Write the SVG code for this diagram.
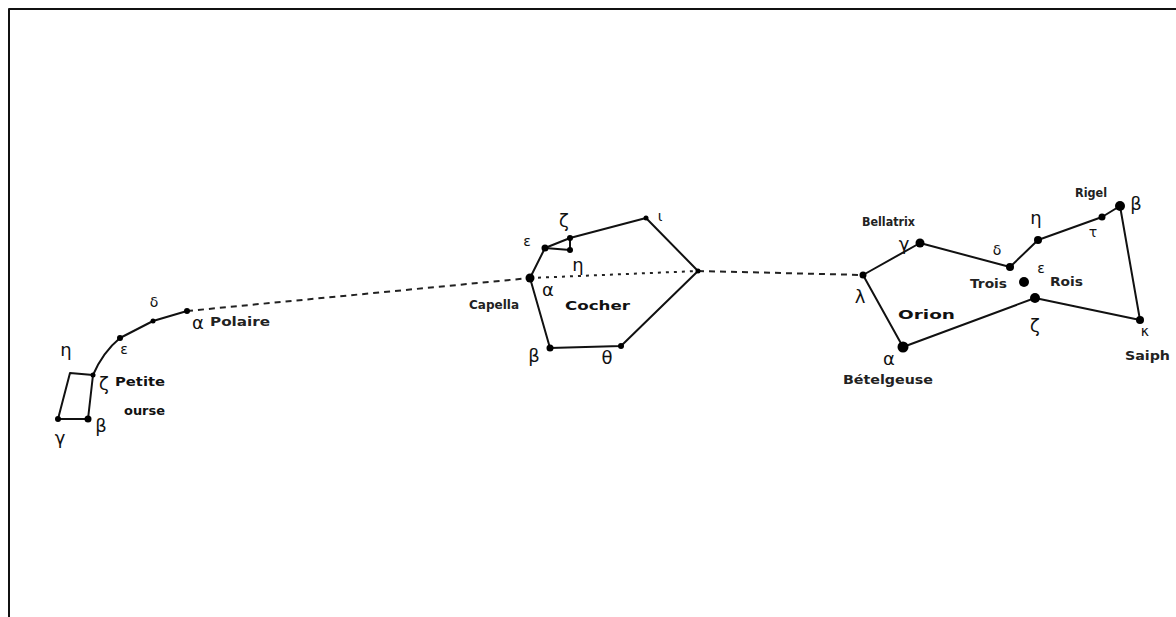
<svg xmlns="http://www.w3.org/2000/svg" width="1176" height="617" viewBox="0 0 1176 617">
<style>
.ln{stroke:#111;stroke-width:2;fill:none;stroke-linecap:round;stroke-linejoin:round}
.dash{stroke:#222;stroke-width:2;fill:none;stroke-dasharray:6 5}
.dot{stroke:#222;stroke-width:2;fill:none;stroke-dasharray:3 5}
.st{fill:#000}
.gk{font-family:"DejaVu Sans",sans-serif;font-size:18px;fill:#111;text-anchor:middle}
.gs{font-family:"DejaVu Sans",sans-serif;font-size:14px;fill:#111;text-anchor:middle}
.lb{font-family:"DejaVu Sans",sans-serif;font-size:12px;font-weight:bold;fill:#222}
.bd{font-family:"DejaVu Sans",sans-serif;font-size:13px;font-weight:bold;fill:#111}
</style>
<rect width="1176" height="617" fill="#fff"/>
<g id="frame"><path class="ln" d="M9 617V9H1176" stroke-linecap="butt"/></g>
<g id="connectors">
<path class="dash" d="M187 311L530 278"/>
<path class="dot" d="M530 278L698 271"/>
<path class="dash" d="M698 271L863 275"/>
</g>
<g id="petite-ourse">
<path class="ln" d="M58 419L70 373L93 375L88 419Z"/>
<path class="ln" d="M93 375Q103 352 120 338L153 321L187 311"/>
<circle class="st" cx="58" cy="419" r="3"/>
<circle class="st" cx="88" cy="419" r="3.5"/>
<circle class="st" cx="93" cy="375" r="2.5"/>
<circle class="st" cx="120" cy="338" r="3"/>
<circle class="st" cx="153" cy="321" r="2.5"/>
<circle class="st" cx="187" cy="311" r="3"/>
<text class="gk" x="66" y="356">η</text>
<text class="gk" x="60" y="444">γ</text>
<text class="gk" x="101" y="432">β</text>
<text class="gk" x="104" y="390">ζ</text>
<text class="gs" x="124" y="354">ε</text>
<text class="gs" x="154" y="307">δ</text>
<text class="gk" x="198" y="329">α</text>
<text class="lb" x="210" y="326" textLength="60" lengthAdjust="spacingAndGlyphs">Polaire</text>
<text class="bd" x="115" y="386" textLength="50" lengthAdjust="spacingAndGlyphs">Petite</text>
<text class="bd" x="124" y="415" textLength="41" lengthAdjust="spacingAndGlyphs">ourse</text>
</g>
<g id="cocher">
<path class="ln" d="M530 278L545 248L570 238L646 218L698 271L621 346L550 348Z"/>
<path class="ln" d="M545 248L570 250L570 238"/>
<circle class="st" cx="530" cy="278" r="4.5"/>
<circle class="st" cx="545" cy="248" r="3.5"/>
<circle class="st" cx="570" cy="238" r="3"/>
<circle class="st" cx="570" cy="250" r="3"/>
<circle class="st" cx="646" cy="218" r="2.5"/>
<circle class="st" cx="698" cy="271" r="2.5"/>
<circle class="st" cx="621" cy="346" r="3"/>
<circle class="st" cx="550" cy="348" r="3.5"/>
<text class="gk" x="564" y="227">ζ</text>
<text class="gs" x="527" y="246">ε</text>
<text class="gs" x="660" y="221">ι</text>
<text class="gk" x="578" y="271">η</text>
<text class="gk" x="548" y="296">α</text>
<text class="lb" x="469" y="309" textLength="50" lengthAdjust="spacingAndGlyphs">Capella</text>
<text class="bd" x="565" y="310" textLength="65" lengthAdjust="spacingAndGlyphs">Cocher</text>
<text class="gk" x="534" y="362">β</text>
<text class="gk" x="607" y="364">θ</text>
</g>
<g id="orion">
<path class="ln" d="M863 275L920 243L1010 267L1038 240L1102 217L1120 206L1140 320L1035 298L903 347Z"/>
<circle class="st" cx="863" cy="275" r="3.5"/>
<circle class="st" cx="920" cy="243" r="4.5"/>
<circle class="st" cx="1010" cy="267" r="4"/>
<circle class="st" cx="1024" cy="282" r="5"/>
<circle class="st" cx="1035" cy="298" r="5"/>
<circle class="st" cx="1038" cy="240" r="4"/>
<circle class="st" cx="1102" cy="217" r="3.5"/>
<circle class="st" cx="1120" cy="206" r="5"/>
<circle class="st" cx="1140" cy="320" r="4"/>
<circle class="st" cx="903" cy="347" r="5.5"/>
<text class="lb" x="862" y="226" textLength="53" lengthAdjust="spacingAndGlyphs">Bellatrix</text>
<text class="gk" x="904" y="250">γ</text>
<text class="gs" x="997" y="255">δ</text>
<text class="gk" x="1036" y="224">η</text>
<text class="lb" x="1075" y="197" textLength="32" lengthAdjust="spacingAndGlyphs">Rigel</text>
<text class="gk" x="1136" y="210">β</text>
<text class="gs" x="1093" y="237">τ</text>
<text class="lb" x="970" y="288" textLength="37" lengthAdjust="spacingAndGlyphs">Trois</text>
<text class="gs" x="1041" y="273">ε</text>
<text class="lb" x="1050" y="286" textLength="33" lengthAdjust="spacingAndGlyphs">Rois</text>
<text class="gk" x="860" y="303">λ</text>
<text class="bd" x="898" y="319" textLength="57" lengthAdjust="spacingAndGlyphs">Orion</text>
<text class="gk" x="1035" y="332">ζ</text>
<text class="gk" x="889" y="365">α</text>
<text class="lb" x="843" y="384" textLength="90" lengthAdjust="spacingAndGlyphs">Bételgeuse</text>
<text class="gs" x="1145" y="336">κ</text>
<text class="lb" x="1125" y="360" textLength="45" lengthAdjust="spacingAndGlyphs">Saiph</text>
</g>
</svg>
